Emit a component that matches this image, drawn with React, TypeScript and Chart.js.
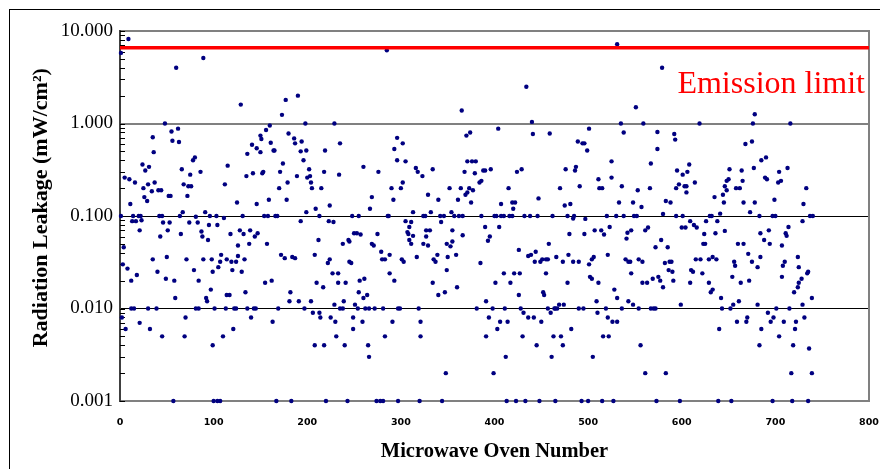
import React, { useEffect, useRef } from "react";
import { Chart, registerables } from "chart.js";

Chart.register(...registerables);

const EMISSION_LIMIT = 6.6;
const LIMIT_LABEL = "Emission limit";
const X_TITLE = "Microwave Oven Number";
const Y_TITLE = "Radiation Leakage (mW/cm²)";
const X_MIN = 0;
const X_MAX = 800;
const X_STEP = 100;
const Y_TICKS = [0.001, 0.01, 0.1, 1, 10];

// [oven number, leakage in mW/cm²]
const ovens001to101: [number, number][] = [
  [1, 5.8], [9, 8.2], [60, 4.0], [89, 5.1], [48, 1.0], [55, 0.82], [62, 0.88], [56, 0.65], [63, 0.63],
  [35, 0.71], [36, 0.49], [24, 0.36], [27, 0.31], [31, 0.34], [5, 0.26], [10, 0.25], [16, 0.23], [37, 0.23],
  [25, 0.2], [30, 0.22], [34, 0.185], [26, 0.16], [29, 0.145], [41, 0.19], [44, 0.19], [52, 0.165], [54, 0.165],
  [11, 0.135], [66, 0.32], [68, 0.22], [78, 0.4], [80, 0.43], [75, 0.28], [73, 0.21], [76, 0.21], [72, 0.165],
  [86, 0.3], [67, 0.11], [91, 0.11], [1, 0.1], [14, 0.1], [20, 0.1], [22, 0.1], [42, 0.1], [45, 0.1], [64, 0.1],
  [81, 0.098], [96, 0.1], [13, 0.088], [17, 0.088], [23, 0.09], [46, 0.085], [53, 0.085], [74, 0.085], [83, 0.085],
  [95, 0.08], [21, 0.07], [43, 0.06], [51, 0.07], [65, 0.064], [87, 0.068], [88, 0.06], [94, 0.055], [4, 0.046],
  [3, 0.03], [8, 0.027], [12, 0.02], [18, 0.023], [35, 0.034], [40, 0.025], [49, 0.021], [50, 0.036], [58, 0.02],
  [71, 0.034], [79, 0.026], [84, 0.02], [89, 0.034], [98, 0.034], [99, 0.025], [97, 0.016], [92, 0.013], [93, 0.012],
  [59, 0.013], [12, 0.01], [15, 0.01], [30, 0.01], [39, 0.01], [81, 0.01], [84, 0.01], [101, 0.01], [2, 0.008],
  [6, 0.006], [21, 0.007], [32, 0.006], [45, 0.005], [69, 0.005], [70, 0.008], [99, 0.004],
];

const ovens102to191: [number, number][] = [
  [129, 1.6], [177, 1.8], [190, 2.0], [173, 1.24], [160, 0.95], [156, 0.85], [150, 0.74], [151, 0.68], [141, 0.59],
  [136, 0.47], [146, 0.54], [150, 0.49], [161, 0.62], [164, 0.51], [165, 0.51], [180, 0.78], [186, 0.69], [187, 0.61],
  [174, 0.37], [171, 0.3], [189, 0.27], [179, 0.23], [170, 0.2], [178, 0.15], [153, 0.3], [152, 0.29], [142, 0.29],
  [135, 0.27], [115, 0.35], [112, 0.22], [125, 0.14], [146, 0.135], [159, 0.15], [103, 0.1], [111, 0.095], [131, 0.1],
  [154, 0.1], [158, 0.1], [166, 0.1], [168, 0.1], [104, 0.08], [118, 0.064], [128, 0.07], [132, 0.064], [139, 0.07],
  [144, 0.06], [147, 0.065], [126, 0.048], [138, 0.05], [157, 0.05], [108, 0.038], [107, 0.032], [105, 0.028],
  [114, 0.034], [119, 0.032], [124, 0.032], [126, 0.037], [133, 0.034], [120, 0.026], [130, 0.025], [172, 0.038],
  [176, 0.035], [184, 0.036], [187, 0.035], [155, 0.019], [162, 0.02], [114, 0.014], [117, 0.014], [134, 0.015],
  [182, 0.015], [181, 0.012], [191, 0.012], [113, 0.01], [122, 0.01], [124, 0.01], [136, 0.01], [143, 0.01],
  [145, 0.01], [169, 0.01], [140, 0.008], [163, 0.0072], [121, 0.006], [110, 0.005],
];

const ovens192to294: [number, number][] = [
  [285, 6.2], [198, 1.0], [229, 1.0], [235, 0.61], [194, 0.64], [193, 0.5], [199, 0.51], [196, 0.4], [219, 0.51],
  [202, 0.32], [203, 0.27], [200, 0.26], [204, 0.23], [205, 0.2], [215, 0.2], [218, 0.3], [234, 0.28], [260, 0.34],
  [276, 0.3], [293, 0.53], [290, 0.2], [292, 0.15], [269, 0.16], [267, 0.12], [224, 0.13], [209, 0.12], [199, 0.11],
  [213, 0.1], [248, 0.1], [255, 0.1], [286, 0.1], [287, 0.1], [223, 0.088], [228, 0.086], [193, 0.088], [212, 0.055],
  [208, 0.038], [222, 0.031], [224, 0.034], [238, 0.05], [244, 0.055], [245, 0.053], [250, 0.065], [253, 0.065],
  [257, 0.063], [245, 0.032], [247, 0.031], [269, 0.05], [271, 0.048], [275, 0.064], [279, 0.041], [280, 0.034],
  [283, 0.034], [288, 0.038], [227, 0.024], [233, 0.024], [233, 0.019], [241, 0.019], [210, 0.019], [217, 0.017],
  [256, 0.02], [261, 0.021], [255, 0.015], [264, 0.014], [260, 0.013], [288, 0.024], [293, 0.02], [204, 0.012],
  [229, 0.011], [239, 0.012], [251, 0.011], [197, 0.01], [235, 0.01], [238, 0.01], [254, 0.01], [262, 0.01],
  [266, 0.01], [272, 0.01], [281, 0.01], [206, 0.009], [213, 0.009], [214, 0.008], [225, 0.008], [230, 0.0072],
  [249, 0.008], [259, 0.0072], [291, 0.0072], [249, 0.006], [231, 0.005], [283, 0.005], [208, 0.004], [218, 0.004],
  [240, 0.004], [265, 0.004], [266, 0.003],
];

const ovens295to395: [number, number][] = [
  [365, 1.38], [374, 0.8], [370, 0.74], [296, 0.7], [302, 0.61], [296, 0.4], [305, 0.39], [316, 0.33], [318, 0.3],
  [323, 0.27], [334, 0.32], [302, 0.23], [300, 0.2], [329, 0.17], [340, 0.15], [352, 0.2], [361, 0.15], [364, 0.2],
  [368, 0.3], [371, 0.39], [376, 0.39], [380, 0.39], [379, 0.29], [384, 0.23], [386, 0.24], [388, 0.31], [390, 0.31],
  [373, 0.2], [369, 0.17], [371, 0.18], [377, 0.19], [375, 0.14], [313, 0.11], [332, 0.11], [354, 0.11], [324, 0.1],
  [326, 0.1], [342, 0.1], [346, 0.1], [357, 0.1], [362, 0.1], [366, 0.1], [386, 0.1], [305, 0.088], [311, 0.086],
  [309, 0.076], [307, 0.067], [308, 0.064], [313, 0.061], [343, 0.086], [327, 0.07], [331, 0.07], [327, 0.06],
  [355, 0.07], [366, 0.062], [390, 0.076], [395, 0.06], [393, 0.054], [309, 0.055], [311, 0.05], [324, 0.05],
  [329, 0.048], [349, 0.05], [353, 0.047], [355, 0.053], [317, 0.036], [301, 0.034], [303, 0.032], [335, 0.034],
  [337, 0.032], [339, 0.038], [350, 0.036], [359, 0.038], [349, 0.026], [385, 0.031], [334, 0.019], [340, 0.014],
  [347, 0.015], [360, 0.017], [391, 0.012], [297, 0.01], [299, 0.01], [319, 0.01], [381, 0.01], [321, 0.0072],
  [321, 0.005], [394, 0.008], [391, 0.005], [348, 0.002],
];

const ovens396to497: [number, number][] = [
  [434, 2.5], [440, 1.04], [441, 0.77], [404, 0.88], [459, 0.78], [489, 0.64], [494, 0.61], [496, 0.61], [396, 0.32],
  [424, 0.3], [429, 0.32], [476, 0.32], [486, 0.31], [487, 0.34], [491, 0.21], [415, 0.2], [470, 0.2], [407, 0.135],
  [419, 0.14], [422, 0.14], [420, 0.12], [447, 0.155], [475, 0.13], [481, 0.135], [400, 0.1], [402, 0.1], [407, 0.1],
  [410, 0.1], [416, 0.1], [419, 0.1], [432, 0.1], [438, 0.1], [446, 0.1], [462, 0.1], [478, 0.1], [485, 0.1],
  [484, 0.094], [497, 0.093], [405, 0.076], [480, 0.064], [496, 0.064], [458, 0.05], [426, 0.043], [436, 0.037],
  [439, 0.038], [444, 0.041], [443, 0.032], [449, 0.032], [451, 0.034], [455, 0.034], [457, 0.034], [466, 0.036],
  [473, 0.032], [479, 0.038], [484, 0.032], [490, 0.032], [410, 0.024], [421, 0.024], [427, 0.024], [455, 0.024],
  [401, 0.019], [417, 0.019], [478, 0.019], [426, 0.014], [452, 0.015], [453, 0.014], [398, 0.01], [411, 0.01],
  [428, 0.01], [457, 0.01], [464, 0.01], [465, 0.01], [467, 0.01], [469, 0.011], [474, 0.011], [490, 0.01],
  [495, 0.01], [431, 0.009], [436, 0.008], [442, 0.008], [460, 0.009], [406, 0.0072], [414, 0.0072], [450, 0.0072],
  [403, 0.006], [482, 0.006], [430, 0.005], [463, 0.005], [471, 0.005], [445, 0.004], [473, 0.004], [412, 0.003],
  [461, 0.003], [399, 0.002],
];

const ovens498to609: [number, number][] = [
  [531, 7.2], [579, 4.0], [551, 1.5], [501, 0.88], [535, 1.0], [559, 1.0], [538, 0.8], [574, 0.81], [592, 0.77],
  [593, 0.67], [574, 0.53], [499, 0.51], [525, 0.39], [567, 0.37], [608, 0.36], [595, 0.31], [601, 0.28], [606, 0.3],
  [511, 0.25], [525, 0.26], [512, 0.2], [515, 0.2], [536, 0.21], [553, 0.19], [566, 0.2], [594, 0.2], [597, 0.22],
  [603, 0.21], [605, 0.21], [605, 0.18], [533, 0.14], [548, 0.14], [557, 0.125], [583, 0.145], [588, 0.14],
  [580, 0.105], [520, 0.1], [530, 0.1], [538, 0.1], [549, 0.1], [552, 0.1], [594, 0.1], [601, 0.1], [609, 0.088],
  [507, 0.07], [514, 0.07], [517, 0.063], [523, 0.076], [542, 0.066], [541, 0.057], [546, 0.07], [561, 0.07],
  [564, 0.075], [600, 0.075], [604, 0.075], [578, 0.055], [572, 0.046], [585, 0.046], [506, 0.036], [504, 0.034],
  [501, 0.03], [521, 0.038], [540, 0.034], [543, 0.032], [545, 0.032], [554, 0.034], [558, 0.032], [582, 0.031],
  [587, 0.032], [589, 0.032], [502, 0.022], [504, 0.021], [511, 0.019], [546, 0.024], [558, 0.019], [563, 0.019],
  [569, 0.021], [575, 0.022], [577, 0.02], [580, 0.017], [586, 0.026], [590, 0.025], [591, 0.02], [609, 0.019],
  [528, 0.016], [531, 0.013], [543, 0.012], [548, 0.011], [509, 0.012], [599, 0.011], [519, 0.01], [536, 0.01],
  [554, 0.01], [567, 0.01], [570, 0.01], [572, 0.01], [510, 0.009], [521, 0.008], [526, 0.0072], [531, 0.0072],
  [516, 0.005], [522, 0.005], [556, 0.004], [505, 0.003], [561, 0.002], [583, 0.002],
];

const ovens610to685: [number, number][] = [
  [619, 1.0], [676, 1.0], [678, 1.26], [675, 0.64], [668, 0.6], [614, 0.23], [651, 0.32], [650, 0.25], [648, 0.24],
  [664, 0.31], [665, 0.24], [677, 0.33], [685, 0.4], [646, 0.21], [648, 0.19], [658, 0.2], [662, 0.2], [635, 0.16],
  [644, 0.17], [645, 0.14], [666, 0.14], [673, 0.11], [678, 0.14], [630, 0.1], [632, 0.1], [641, 0.106], [683, 0.1],
  [613, 0.08], [616, 0.075], [626, 0.088], [638, 0.088], [636, 0.065], [646, 0.069], [624, 0.064], [623, 0.05],
  [625, 0.05], [660, 0.05], [666, 0.05], [684, 0.065], [615, 0.034], [620, 0.034], [629, 0.034], [633, 0.036],
  [637, 0.034], [671, 0.039], [684, 0.036], [610, 0.026], [612, 0.025], [622, 0.024], [629, 0.019], [633, 0.016],
  [631, 0.015], [656, 0.032], [657, 0.029], [654, 0.022], [663, 0.019], [672, 0.02], [642, 0.013], [655, 0.011],
  [661, 0.012], [681, 0.011], [643, 0.01], [652, 0.01], [659, 0.0072], [669, 0.0072], [670, 0.008], [640, 0.006],
  [683, 0.004], [685, 0.006],
];

const ovens686to740: [number, number][] = [
  [716, 1.0], [690, 0.43], [713, 0.33], [704, 0.3], [689, 0.26], [691, 0.25], [706, 0.24], [703, 0.23], [733, 0.2],
  [699, 0.15], [730, 0.135], [697, 0.1], [700, 0.1], [737, 0.1], [740, 0.1], [729, 0.088], [714, 0.076], [711, 0.065],
  [712, 0.061], [693, 0.07], [688, 0.055], [694, 0.05], [707, 0.048], [675, 0.032], [681, 0.028], [710, 0.032],
  [708, 0.029], [724, 0.036], [725, 0.028], [734, 0.024], [735, 0.025], [728, 0.021], [725, 0.019], [724, 0.017],
  [707, 0.022], [720, 0.015], [729, 0.011], [739, 0.013], [701, 0.01], [715, 0.01], [692, 0.009], [698, 0.008],
  [695, 0.0072], [709, 0.0072], [722, 0.0072], [721, 0.006], [731, 0.008], [704, 0.005], [719, 0.004],
  [736, 0.0037], [717, 0.002], [739, 0.002],
];

// ovens whose reading sits on the 0.001 floor of the axis
const ovensAtFloor: number[] = [
  57, 100, 104, 107, 167, 183, 220, 243, 274, 278, 281, 297, 320, 344, 413, 423, 433, 448, 465, 493, 500, 515,
  527, 573, 598, 639, 653, 697, 718, 735,
];
const FLOOR_VALUE = 0.001;

const SERIF = "'Liberation Serif', 'Times New Roman', serif";

const framePlugin = {
  id: "frameTicks",
  beforeDatasetsDraw(chart: any) {
    const { ctx, chartArea: a, scales } = chart;
    const y = scales.y;
    ctx.save();
    ctx.strokeStyle = "#808080";
    ctx.lineWidth = 2;
    ctx.beginPath();
    ctx.moveTo(a.right, a.top - 1);
    ctx.lineTo(a.right, a.bottom + 1);
    ctx.stroke();
    ctx.strokeStyle = "#404040";
    ctx.beginPath();
    ctx.moveTo(a.left, a.top - 1);
    ctx.lineTo(a.left, a.bottom + 1);
    ctx.stroke();
    ctx.lineWidth = 1;
    ctx.strokeStyle = "#000";
    const lo = Math.log10(Y_TICKS[0]);
    const hi = Math.log10(Y_TICKS[Y_TICKS.length - 1]);
    for (let d = lo; d <= hi; d++) {
      for (let k = 1; k <= 9; k++) {
        const v = k * Math.pow(10, d);
        if (v > Math.pow(10, hi) * 1.0001) continue;
        const py = Math.round(y.getPixelForValue(v)) + 0.5;
        ctx.beginPath();
        ctx.moveTo(a.left, py);
        ctx.lineTo(a.left + 5, py);
        ctx.stroke();
      }
    }
    ctx.restore();
  },
  afterDatasetsDraw(chart: any) {
    const { ctx, chartArea: a, scales } = chart;
    const ly = scales.y.getPixelForValue(EMISSION_LIMIT);
    ctx.save();
    ctx.fillStyle = "#ff0000";
    ctx.font = `32px ${SERIF}`;
    ctx.textAlign = "right";
    ctx.textBaseline = "alphabetic";
    ctx.fillText(LIMIT_LABEL, a.right - 4, ly + 45);
    ctx.restore();
  },
};

export default function App() {
  const canvasRef = useRef<HTMLCanvasElement | null>(null);

  useEffect(() => {
    const canvas = canvasRef.current;
    if (!canvas) return;
    const all = [
      ...ovens001to101,
      ...ovens102to191,
      ...ovens192to294,
      ...ovens295to395,
      ...ovens396to497,
      ...ovens498to609,
      ...ovens610to685,
      ...ovens686to740,
      ...ovensAtFloor.map((n) => [n, FLOOR_VALUE] as [number, number]),
    ];
    const chart = new Chart(canvas, {
      type: "scatter",
      data: {
        datasets: [
          {
            label: LIMIT_LABEL,
            data: [
              { x: X_MIN, y: EMISSION_LIMIT },
              { x: X_MAX, y: EMISSION_LIMIT },
            ],
            showLine: true,
            borderColor: "#ff0000",
            borderWidth: 3.5,
            pointRadius: 0,
            fill: false,
          } as any,
          {
            label: "Radiation leakage",
            data: all.map(([x, y]) => ({ x, y })),
            backgroundColor: "#000080",
            borderWidth: 0,
            pointRadius: 2.2,
            clip: false,
          } as any,
        ],
      },
      options: {
        animation: false,
        responsive: false,
        maintainAspectRatio: false,
        layout: { padding: { left: 0, right: 11, top: 31, bottom: 0 } },
        plugins: { legend: { display: false }, tooltip: { enabled: false } },
        scales: {
          x: {
            type: "linear",
            min: X_MIN,
            max: X_MAX,
            grid: {
              display: true,
              drawOnChartArea: false,
              drawTicks: true,
              tickLength: 16,
              color: "rgba(0,0,0,0)",
            },
            border: { display: false },
            ticks: {
              stepSize: X_STEP,
              color: "#000",
              padding: 0,
              maxRotation: 0,
              font: { family: "'DejaVu Sans', Verdana, sans-serif", size: 9.5, weight: "bold" },
            },
            title: {
              display: true,
              text: X_TITLE,
              color: "#000",
              font: { family: SERIF, size: 20.5, weight: "bold" },
              padding: { top: 0, bottom: 5 },
            },
            afterFit: (s: any) => {
              s.height = 68;
            },
          },
          y: {
            type: "logarithmic",
            min: Y_TICKS[0],
            max: Y_TICKS[Y_TICKS.length - 1],
            afterBuildTicks: (s: any) => {
              s.ticks = Y_TICKS.map((v) => ({ value: v, major: true }));
            },
            grid: {
              drawTicks: false,
              color: (c: any) => {
                const v = c.tick ? c.tick.value : 0;
                return v === 0.1 || v === 0.01 ? "#000000" : "#808080";
              },
              lineWidth: (c: any) => {
                const v = c.tick ? c.tick.value : 0;
                return v === 0.1 || v === 0.01 ? 1 : 2;
              },
            },
            border: { display: false },
            ticks: {
              color: "#000",
              padding: 7,
              autoSkip: false,
              font: { family: SERIF, size: 19 },
              callback: (v: any) => Number(v).toFixed(3),
            },
            title: {
              display: true,
              text: "   " + Y_TITLE,
              color: "#000",
              font: { family: SERIF, size: 22, weight: "bold" },
              padding: { top: 28, bottom: 0 },
            },
            afterFit: (s: any) => {
              s.width = 120;
            },
          },
        },
      },
      plugins: [framePlugin],
    });
    return () => chart.destroy();
  }, []);

  return (
    <div
      style={{
        position: "fixed",
        left: 0,
        top: 0,
        width: 880,
        height: 469,
        overflow: "hidden",
        background: "#fff",
      }}
    >
      <div
        style={{
          position: "absolute",
          left: 9,
          top: 9,
          width: 1000,
          height: 1000,
          border: "1px solid #000",
        }}
      />
      <canvas
        ref={canvasRef}
        width={880}
        height={469}
        style={{ position: "absolute", left: 0, top: 0, width: 880, height: 469 }}
      />
    </div>
  );
}
